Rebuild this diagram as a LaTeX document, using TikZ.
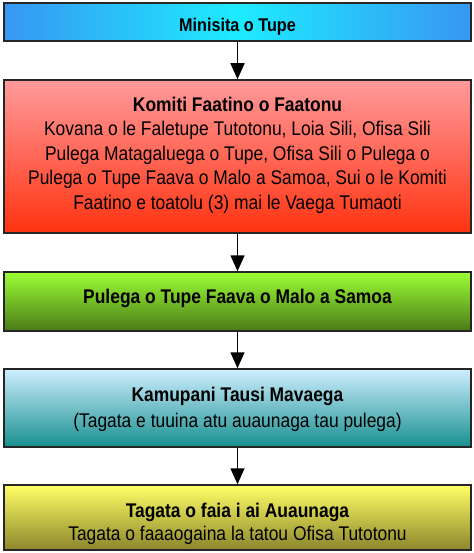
\documentclass[tikz,border=0pt]{standalone}
\usepackage{fontspec}
\setmainfont{Liberation Sans}[FakeStretch=0.88]
\usetikzlibrary{arrows.meta}

\definecolor{blueEdge}{HTML}{3797F2}
\definecolor{blueMid}{HTML}{1EEBFF}
\definecolor{redTop}{HTML}{FF9A9A}
\definecolor{redBot}{HTML}{FF3311}
\definecolor{greenTop}{HTML}{9CFF35}
\definecolor{greenBot}{HTML}{4A7A18}
\definecolor{tealTop}{HTML}{CFEEFF}
\definecolor{tealBot}{HTML}{17908F}
\definecolor{yellowTop}{HTML}{FFFF66}
\definecolor{yellowBot}{HTML}{8C862C}

\tikzset{every picture/.style={line width=1.5pt}}
\tikzset{
  box/.style={draw=black!85, rectangle, inner sep=0pt, minimum width=467},
  label/.style={anchor=north, inner sep=0pt, align=center},
  flow/.style={-{Triangle[width=14pt,length=16pt]}, line width=1.5pt}
}

\begin{document}
\begin{tikzpicture}[x=1pt,y=1pt,yscale=-1,xscale=1]
\useasboundingbox (0,0) rectangle (473,553);

%Boxes
\node [box, minimum height=38, left color=blueEdge, right color=blueEdge, middle color=blueMid] (minisita) at (237.5,22) {};
\node [box, minimum height=153, top color=redTop, bottom color=redBot] (komiti) at (237.5,156.5) {};
\node [box, minimum height=59, top color=greenTop, bottom color=greenBot] (pulega) at (237.5,301.5) {};
\node [box, minimum height=78, top color=tealTop, bottom color=tealBot] (kamupani) at (237.5,408) {};
\node [box, minimum height=65, top color=yellowTop, bottom color=yellowBot] (tagata) at (237.5,517.5) {};

%Arrows
\draw [flow] (minisita.south) -- (komiti.north);
\draw [flow] (komiti.south) -- (pulega.north);
\draw [flow] (pulega.south) -- (kamupani.north);
\draw [flow] (kamupani.south) -- (tagata.north);

% Text Node
\node [label, font=\fontsize{18.4}{22}\selectfont\bfseries] (minisitaTxt) at (237.5,17) {Minisita o Tupe};
% Text Node
\node [label, font=\fontsize{19.8}{24.5}\selectfont] (komitiTxt) at (237.5,96) {\textbf{Komiti Faatino o Faatonu}\\
Kovana o le Faletupe Tutotonu, Loia Sili, Ofisa Sili\\
Pulega Matagaluega o Tupe, Ofisa Sili o Pulega o\\
Pulega o Tupe Faava o Malo a Samoa, Sui o le Komiti\\
Faatino e toatolu (3) mai le Vaega Tumaoti};
% Text Node
\node [label, font=\fontsize{19.8}{24}\selectfont\bfseries] (pulegaTxt) at (237.5,288) {Pulega o Tupe Faava o Malo a Samoa};
% Text Node
\node [label, font=\fontsize{19.8}{26}\selectfont] (kamupaniTxt) at (237.5,386) {\textbf{Kamupani Tausi Mavaega}\\
(Tagata e tuuina atu auaunaga tau pulega)};
% Text Node
\node [label, font=\fontsize{19.8}{23}\selectfont] (tagataTxt) at (237.5,502) {\textbf{Tagata o faia i ai Auaunaga}\\
Tagata o faaaogaina la tatou Ofisa Tutotonu};

\end{tikzpicture}
\end{document}
